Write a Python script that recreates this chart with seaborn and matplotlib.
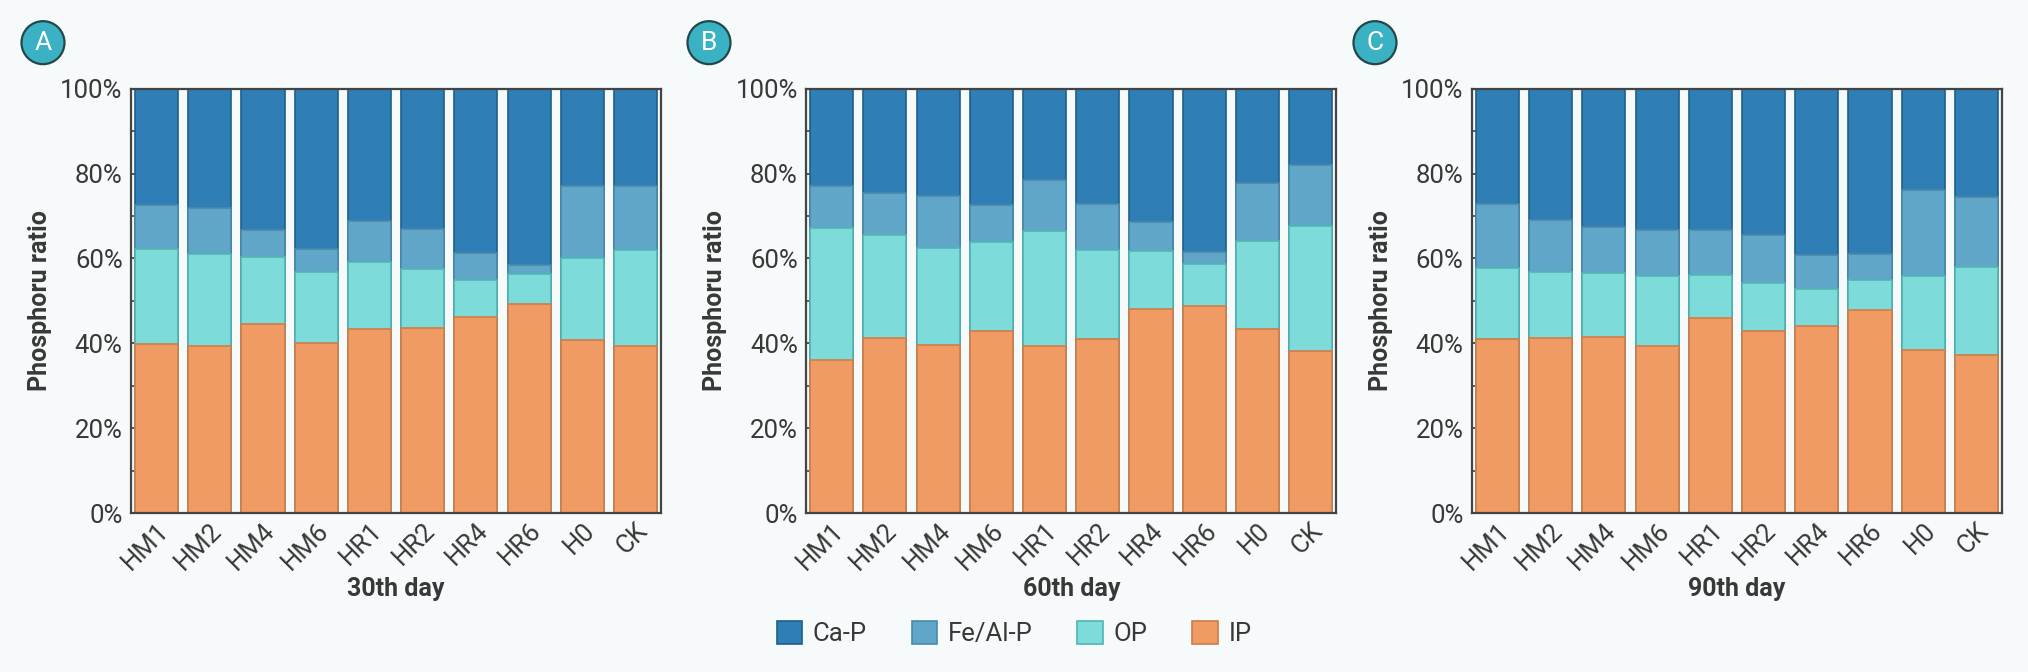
import matplotlib
matplotlib.use("Agg")
import matplotlib.pyplot as plt
import seaborn as sns
import pandas as pd
import numpy as np
from matplotlib.patches import Patch
from matplotlib.ticker import MultipleLocator, PercentFormatter

# ---------------- data (percent of total phosphorus) ----------------
treatments = ["HM1", "HM2", "HM4", "HM6", "HR1", "HR2", "HR4", "HR6", "H0", "CK"]
days = ["30th day", "60th day", "90th day"]
panel_letters = ["A", "B", "C"]
fractions = ["Ca-P", "Fe/Al-P", "OP", "IP"]

ip_30 = [39.9, 39.3, 44.5, 40.0, 43.4, 43.7, 46.3, 49.2, 40.7, 39.3]
op_30 = [22.4, 21.7, 15.8, 16.9, 15.8, 13.8, 8.5, 7.1, 19.3, 22.8]
feal_30 = [10.2, 10.8, 6.4, 5.4, 9.7, 9.4, 6.4, 2.1, 17.1, 15.0]
cap_30 = [27.5, 28.2, 33.3, 37.7, 31.1, 33.1, 38.8, 41.6, 22.9, 22.9]

ip_60 = [36.1, 41.3, 39.6, 43.0, 39.3, 41.0, 48.0, 48.8, 43.4, 38.1]
op_60 = [31.1, 24.3, 22.8, 20.8, 27.2, 21.0, 13.7, 9.8, 20.6, 29.6]
feal_60 = [9.8, 9.8, 12.3, 8.9, 12.1, 10.9, 6.8, 2.9, 13.7, 14.3]
cap_60 = [23.0, 24.6, 25.3, 27.3, 21.4, 27.1, 31.5, 38.5, 22.3, 18.0]

ip_90 = [40.9, 41.2, 41.5, 39.3, 45.9, 42.8, 44.1, 47.9, 38.4, 37.2]
op_90 = [16.9, 15.7, 15.0, 16.5, 10.2, 11.4, 8.6, 7.1, 17.4, 20.8]
feal_90 = [15.1, 12.2, 10.9, 10.9, 10.5, 11.3, 8.1, 6.0, 20.3, 16.5]
cap_90 = [27.1, 30.9, 32.6, 33.3, 33.4, 34.5, 39.2, 39.0, 23.9, 25.5]

panels = [
    dict(IP=ip_30, OP=op_30, FeAl=feal_30, CaP=cap_30),
    dict(IP=ip_60, OP=op_60, FeAl=feal_60, CaP=cap_60),
    dict(IP=ip_90, OP=op_90, FeAl=feal_90, CaP=cap_90),
]

# ---------------- style ----------------
bg = "#F6FAFA"
colors = {"Ca-P": "#2F7EB5", "Fe/Al-P": "#5FA6C8", "OP": "#7DDCDA", "IP": "#F09B64"}
edges = {"Ca-P": "#1F5F8C", "Fe/Al-P": "#4A8AAB", "OP": "#50B5B3", "IP": "#CF7C48"}
text_c = "#383838"

sns.set_theme(style="ticks")
plt.rcParams["font.family"] = ["Roboto", "DejaVu Sans"]
plt.rcParams["figure.facecolor"] = bg
plt.rcParams["axes.facecolor"] = bg
plt.rcParams["savefig.facecolor"] = bg

fig = plt.figure(figsize=(20.28, 6.72), dpi=100)
lefts = [0.0646, 0.3975, 0.7258]
badge_x = [0.0212, 0.3496, 0.6780]
width = 0.2614
bottom = 0.2366
height = 0.6314

for i, (pdata, day, letter) in enumerate(zip(panels, days, panel_letters)):
    ax = fig.add_axes([lefts[i], bottom, width, height])
    ip = np.array(pdata["IP"])
    op = np.array(pdata["OP"])
    fe = np.array(pdata["FeAl"])
    ca = np.array(pdata["CaP"])
    layers = [
        ("Ca-P", ip + op + fe + ca),
        ("Fe/Al-P", ip + op + fe),
        ("OP", ip + op),
        ("IP", ip),
    ]
    for name, tops in layers:
        df = pd.DataFrame({"treatment": treatments, "value": tops})
        sns.barplot(data=df, x="treatment", y="value", order=treatments,
                    color=colors[name], edgecolor=edges[name], linewidth=1.2,
                    width=0.81, saturation=1, ax=ax, errorbar=None)
    ax.set_xlim(-0.48, 9.48)
    ax.set_ylim(0, 100)
    ax.yaxis.set_major_locator(MultipleLocator(20))
    ax.yaxis.set_minor_locator(MultipleLocator(10))
    ax.yaxis.set_major_formatter(PercentFormatter(decimals=0))
    ax.tick_params(axis="y", which="major", direction="in", length=7, width=1.3,
                   color="#444444", labelsize=18.5, labelcolor=text_c, pad=6)
    ax.tick_params(axis="y", which="minor", direction="in", length=3.5, width=1.2,
                   color="#444444")
    ax.tick_params(axis="x", length=0, labelsize=18.5, labelcolor=text_c, pad=4)
    for lab in ax.get_xticklabels():
        lab.set_rotation(45)
        lab.set_ha("right")
        lab.set_rotation_mode("anchor")
    for sp in ax.spines.values():
        sp.set_visible(True)
        sp.set_color("#444444")
        sp.set_linewidth(1.6)
    ax.set_xlabel(day, fontsize=18, fontweight="bold", color=text_c, labelpad=2)
    ax.set_ylabel("Phosphoru ratio", fontsize=18, fontweight="bold", color=text_c, labelpad=6)
    # panel letter badge
    fig.text(badge_x[i], 0.9365, letter, fontsize=19, color="white",
             ha="center", va="center",
             bbox=dict(boxstyle="circle,pad=0.36", fc="#3BB2C3", ec="#24474D", lw=1.6))

handles = [Patch(facecolor=colors[f], edgecolor=edges[f], linewidth=1.2, label=f) for f in fractions]
leg = fig.legend(handles=handles, loc="center", bbox_to_anchor=(0.5, 0.057), ncol=4,
                 frameon=False, fontsize=18.5, handlelength=1.0, handleheight=1.0,
                 handletextpad=0.4, columnspacing=1.75)
for t in leg.get_texts():
    t.set_color(text_c)

fig.savefig("out.png", dpi=100, facecolor=bg)
